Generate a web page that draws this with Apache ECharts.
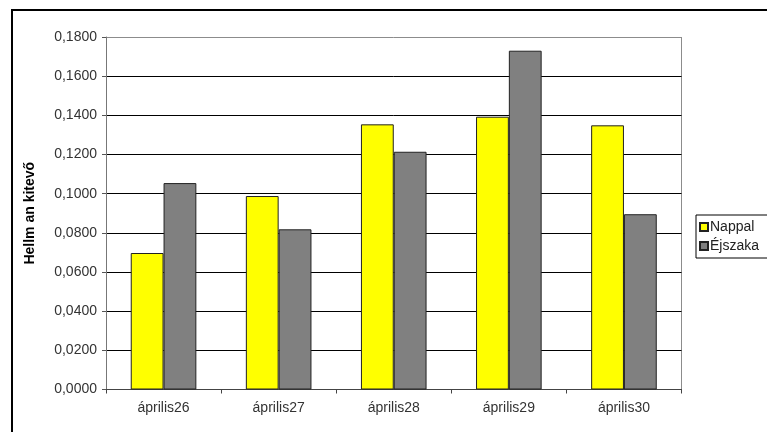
<!DOCTYPE html>
<html>
<head>
<meta charset="utf-8">
<script src="https://cdn.jsdelivr.net/npm/echarts@6/dist/echarts.min.js"></script>
<style>
  html, body { margin: 0; padding: 0; background: #fff; }
  #chart { width: 767px; height: 432px; }
</style>
</head>
<body>
<div id="chart"></div>
<script>
// Daily Hellman exponent, day vs. night
const categories = ['április26', 'április27', 'április28', 'április29', 'április30'];
const nappal = [0.0697, 0.0988, 0.1354, 0.1393, 0.1349];
const ejszaka = [0.1054, 0.0818, 0.1214, 0.1730, 0.0895];
const seriesNames = ['Nappal', 'Éjszaka'];
const yAxisTitle = 'Hellm an kitevő';

const FONT = '"Liberation Sans", Arial, sans-serif';

const chart = echarts.init(document.getElementById('chart'), null, { renderer: 'canvas' });

// black split lines, the top one (plot frame) in gray
const splitColors = ['#000', '#000', '#000', '#000', '#000', '#000', '#000', '#000', '#000', '#8c8c8c'];

chart.setOption({
  animation: false,
  backgroundColor: '#fff',
  textStyle: { fontFamily: FONT },
  graphic: [
    {
      type: 'rect',
      shape: { x: 12, y: 10, width: 800, height: 500 },
      style: { fill: 'none', stroke: '#000', lineWidth: 2 },
      silent: true
    },
    {
      type: 'line',
      shape: { x1: 681.5, y1: 37, x2: 681.5, y2: 389.5 },
      style: { stroke: '#8c8c8c', lineWidth: 1 },
      silent: true
    }
  ],
  grid: { left: 106, right: 85.5, top: 37, bottom: 42.5, containLabel: false },
  legend: {
    data: seriesNames,
    orient: 'vertical',
    left: 696,
    top: 215,
    itemWidth: 8,
    itemHeight: 8,
    itemGap: 5,
    padding: [5, 30, 5, 3],
    borderColor: '#000',
    borderWidth: 1,
    backgroundColor: '#fff',
    textStyle: { fontFamily: FONT, fontSize: 14, color: '#222', padding: [0, 0, 0, -3] },
    icon: 'rect'
  },
  xAxis: {
    type: 'category',
    data: categories,
    axisLine: { show: true, lineStyle: { color: '#444', width: 1 } },
    axisTick: { show: true, length: 4, lineStyle: { color: '#444' } },
    axisLabel: { fontFamily: FONT, fontSize: 14, color: '#333', margin: 12 },
    splitLine: { show: false }
  },
  yAxis: {
    type: 'value',
    min: 0,
    max: 0.18,
    interval: 0.02,
    name: yAxisTitle,
    nameLocation: 'middle',
    nameGap: 69,
    nameRotate: 90,
    nameTextStyle: { fontFamily: FONT, fontSize: 14, fontWeight: 'bold', color: '#000' },
    axisLine: { show: true, lineStyle: { color: '#777', width: 1 } },
    axisTick: { show: true, length: 4, lineStyle: { color: '#555' } },
    axisLabel: {
      fontFamily: FONT,
      fontSize: 14,
      color: '#333',
      margin: 9,
      formatter: v => v.toFixed(4).replace('.', ',')
    },
    splitLine: { show: true, lineStyle: { color: splitColors, width: 1 } }
  },
  series: [
    {
      name: seriesNames[0],
      type: 'bar',
      data: nappal,
      barGap: '0%',
      barCategoryGap: '43%',
      itemStyle: { color: '#ffff00', borderColor: '#222', borderWidth: 1 }
    },
    {
      name: seriesNames[1],
      type: 'bar',
      data: ejszaka,
      barGap: '0%',
      barCategoryGap: '43%',
      itemStyle: { color: '#808080', borderColor: '#222', borderWidth: 1 }
    }
  ]
});
</script>
</body>
</html>
